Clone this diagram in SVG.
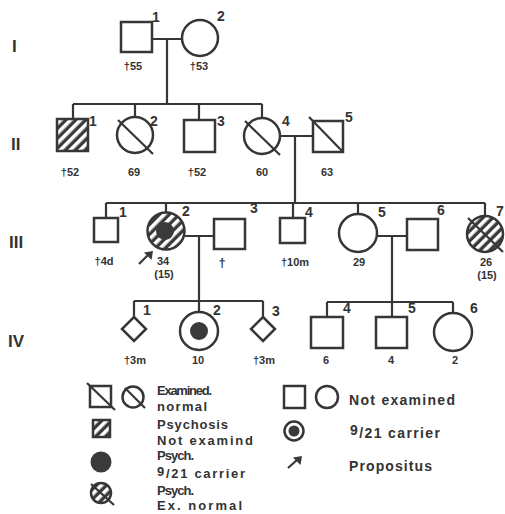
<svg xmlns="http://www.w3.org/2000/svg" width="505" height="514" viewBox="0 0 505 514">
<style>
.n{fill:#fff;stroke:#363636;stroke-width:2.5}
.h{fill:url(#hatch);stroke:#363636;stroke-width:2.5}
.d{fill:#3a3a3a}
.ln{fill:none;stroke:#363636;stroke-width:2.2}
.st{stroke:#363636;stroke-width:2.2}
text{font-family:"Liberation Sans",Arial,sans-serif;font-weight:bold;fill:#333}
.num{font-size:14px}
.age{font-size:11px;text-anchor:middle}
.gen{font-size:17px}
.lg{font-size:13px}
.lg2{font-size:14px}
</style>
<defs>
<pattern id="hatch" patternUnits="userSpaceOnUse" width="7" height="7" patternTransform="rotate(45)">
<rect width="7" height="7" fill="#3a3a3a"/>
<rect width="3.6" height="7" fill="#fff"/>
</pattern>
</defs>

<g id="gen-labels">
<text class="gen" x="12" y="52">I</text>
<text class="gen" x="11" y="150">II</text>
<text class="gen" x="9" y="248">III</text>
<text class="gen" x="8" y="347">IV</text>
</g>

<g id="connectors" class="ln">
<path d="M152 39H182M167 39V104"/>
<path d="M73 104H262M73 104V119M135 104V117M199 104V120M262 104V118"/>
<path d="M280 136H313M295 136V203"/>
<path d="M106 203H485M106 203V218M166 203V212M293 203V218M358 203V214M485 203V216"/>
<path d="M185 236H214M199 236V301"/>
<path d="M134 301H263M134 301V317M199 301V312M263 301V317"/>
<path d="M378 236H407M392 236V317"/>
<path d="M327 302H453M327 302V317M453 302V313"/>
</g>

<g id="I-1"><rect class="n" x="121" y="22" width="31" height="30"/><text class="num" x="152" y="22">1</text><text class="age" x="133" y="70">†55</text></g>
<g id="I-2"><circle class="n" cx="200" cy="38" r="18"/><text class="num" x="217" y="21">2</text><text class="age" x="199" y="70">†53</text></g>

<g id="II-1"><rect class="h" x="57" y="119" width="31" height="32"/><text class="num" x="89" y="126">1</text><text class="age" x="70" y="176">†52</text></g>
<g id="II-2"><circle class="n" cx="135" cy="135" r="18"/><line class="st" x1="118" y1="120" x2="153" y2="154"/><text class="num" x="150" y="126">2</text><text class="age" x="134" y="176">69</text></g>
<g id="II-3"><rect class="n" x="184" y="120" width="31" height="32"/><text class="num" x="217" y="126">3</text><text class="age" x="197" y="176">†52</text></g>
<g id="II-4"><circle class="n" cx="262" cy="136" r="18"/><line class="st" x1="245" y1="121" x2="280" y2="155"/><text class="num" x="282" y="126">4</text><text class="age" x="262" y="176">60</text></g>
<g id="II-5"><rect class="n" x="313" y="121" width="30" height="31"/><line class="st" x1="309" y1="117" x2="343" y2="152"/><text class="num" x="345" y="122">5</text><text class="age" x="327" y="176">63</text></g>

<g id="III-1"><rect class="n" x="94" y="218" width="24" height="24"/><text class="num" x="119" y="217">1</text><text class="age" x="104" y="265">†4d</text></g>
<g id="III-2"><circle class="h" cx="166" cy="231" r="18.5"/><circle class="d" cx="165" cy="231" r="9"/><text class="num" x="182" y="216">2</text><text class="age" x="163" y="265">34</text><text class="age" x="164" y="278">(15)</text>
<path d="M139 264L148 255" class="st" stroke-width="4"/><polygon class="d" points="153,251 144,252.5 151.5,260"/></g>
<g id="III-3"><rect class="n" x="214" y="219" width="31" height="30"/><text class="num" x="250" y="213">3</text><text class="age" x="222" y="267" style="font-size:13px">†</text></g>
<g id="III-4"><rect class="n" x="280" y="218" width="25" height="25"/><text class="num" x="305" y="217">4</text><text class="age" x="295" y="266">†10m</text></g>
<g id="III-5"><circle class="n" cx="358" cy="233" r="19"/><text class="num" x="378" y="217">5</text><text class="age" x="359" y="266">29</text></g>
<g id="III-6"><rect class="n" x="407" y="219" width="31" height="31"/><text class="num" x="437" y="215">6</text></g>
<g id="III-7"><circle class="h" cx="485" cy="234" r="18"/><line class="st" x1="468" y1="218" x2="503" y2="252"/><text class="num" x="496" y="216">7</text><text class="age" x="486" y="266">26</text><text class="age" x="487" y="279">(15)</text></g>

<g id="IV-1"><polygon class="n" points="134,317 146,329 134,341 122,329"/><text class="num" x="143" y="315">1</text><text class="age" x="135" y="364">†3m</text></g>
<g id="IV-2"><circle class="n" cx="199" cy="331" r="19"/><circle class="d" cx="199" cy="331" r="9"/><text class="num" x="213" y="315">2</text><text class="age" x="198" y="364">10</text></g>
<g id="IV-3"><polygon class="n" points="263,317 275,329 263,341 251,329"/><text class="num" x="272" y="316">3</text><text class="age" x="264" y="364">†3m</text></g>
<g id="IV-4"><rect class="n" x="311" y="317" width="32" height="31"/><text class="num" x="343" y="313">4</text><text class="age" x="326" y="364">6</text></g>
<g id="IV-5"><rect class="n" x="376" y="317" width="31" height="31"/><text class="num" x="408" y="313">5</text><text class="age" x="391" y="364">4</text></g>
<g id="IV-6"><circle class="n" cx="453" cy="332" r="19"/><text class="num" x="470" y="313">6</text><text class="age" x="455" y="364">2</text></g>

<g id="legend">
<rect class="n" x="90" y="386" width="21" height="21"/><line class="st" x1="87" y1="383" x2="115" y2="410"/>
<circle class="n" cx="133" cy="397" r="10.5"/><line class="st" x1="125" y1="388" x2="145" y2="408"/>
<text class="lg" x="157" y="395" textLength="55" lengthAdjust="spacing">Examined.</text>
<text class="lg" x="157" y="411" textLength="50" lengthAdjust="spacing">normal</text>
<rect class="h" x="93" y="420" width="17" height="17" stroke-width="1.5"/>
<text class="lg" x="157" y="429" textLength="71" lengthAdjust="spacing">Psychosis</text>
<text class="lg" x="157" y="445" textLength="96" lengthAdjust="spacing">Not examind</text>
<circle class="d" cx="101" cy="462" r="10.5"/>
<text class="lg" x="157" y="460" textLength="37" lengthAdjust="spacing">Psych.</text>
<text class="lg" x="157" y="478" textLength="88" lengthAdjust="spacing"><tspan dy="-2">9</tspan><tspan dy="2">/21 carrier</tspan></text>
<circle class="h" cx="101" cy="493" r="10" stroke-width="1.5"/><line class="st" x1="91" y1="484" x2="114" y2="505"/>
<text class="lg" x="157" y="495" textLength="37" lengthAdjust="spacing">Psych.</text>
<text class="lg" x="157" y="510" textLength="85" lengthAdjust="spacing">Ex. normal</text>

<rect class="n" x="284" y="386" width="21" height="22"/>
<circle class="n" cx="327" cy="397" r="11"/>
<text class="lg2" x="349" y="405" textLength="106" lengthAdjust="spacing">Not examined</text>
<circle class="n" cx="294" cy="431" r="9.5"/><circle class="d" cx="294" cy="431" r="5.5"/>
<text class="lg2" x="350" y="438" textLength="90" lengthAdjust="spacing"><tspan dy="-3">9</tspan><tspan dy="3">/21 carrier</tspan></text>
<path d="M288 468L297 460" class="st" stroke-width="4"/><polygon class="d" points="302,456 293,457.5 300.5,465"/>
<text class="lg2" x="349" y="471" textLength="83" lengthAdjust="spacing">Propositus</text>
</g>
</svg>
